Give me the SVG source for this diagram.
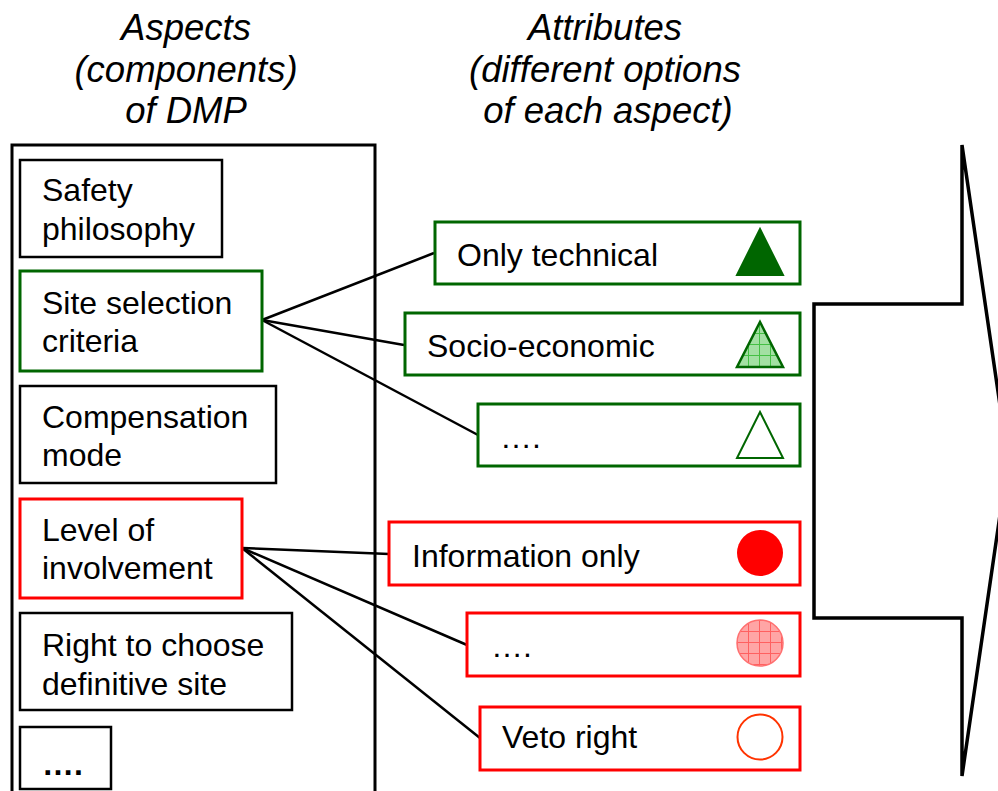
<svg xmlns="http://www.w3.org/2000/svg" width="998" height="791" viewBox="0 0 998 791">
<style>
text{font-family:"Liberation Sans",Arial,sans-serif;fill:#000}
.t{font-size:36.5px;font-style:italic;text-anchor:middle}
.b{font-size:32px}
.k{fill:#fff;stroke:#000;stroke-width:2.5}
.g{fill:#fff;stroke:#006600;stroke-width:3}
.r{fill:#fff;stroke:#ff0000;stroke-width:3}
.c{stroke:#000;stroke-width:2.5;fill:none}
</style>
<defs>
<pattern id="gp" x="737" y="322" width="11" height="11" patternUnits="userSpaceOnUse">
<rect width="11" height="11" fill="#a3e0a3"/>
<path d="M0 0.5H11M0.5 0V11" stroke="#44c044" stroke-width="1"/>
</pattern>
<pattern id="rp" x="737" y="620" width="11" height="11" patternUnits="userSpaceOnUse">
<rect width="11" height="11" fill="#ffa5a5"/>
<path d="M0 0.5H11M0.5 0V11" stroke="#ff6060" stroke-width="1"/>
</pattern>
</defs>
<rect width="998" height="791" fill="#fff"/>
<g id="title-aspects">
<text class="t" x="186" y="40">Aspects</text>
<text class="t" x="186" y="82">(components)</text>
<text class="t" x="186" y="123">of DMP</text>
</g>
<g id="title-attributes">
<text class="t" x="605" y="40">Attributes</text>
<text class="t" x="605" y="82">(different options</text>
<text class="t" x="608" y="123">of each aspect)</text>
</g>
<g id="container">
<path d="M12 795V145H375V795" fill="none" stroke="#000" stroke-width="3"/>
</g>
<g id="arrow">
<path d="M814 304H962V145L1008 460L962 776V618H814Z" fill="#fff" stroke="#000" stroke-width="3.5" stroke-linejoin="miter"/>
</g>
<g id="connectors">
<line class="c" x1="262" y1="320" x2="434" y2="253"/>
<line class="c" x1="262" y1="320" x2="404" y2="345"/>
<line class="c" x1="262" y1="320" x2="478" y2="435"/>
<line class="c" x1="242" y1="548" x2="389" y2="554"/>
<line class="c" x1="242" y1="548" x2="467" y2="645"/>
<line class="c" x1="242" y1="548" x2="480" y2="738"/>
</g>
<g id="safety">
<rect class="k" x="20" y="160" width="202" height="97"/>
<text class="b" x="42" y="201">Safety</text>
<text class="b" x="42" y="240">philosophy</text>
</g>
<g id="site">
<rect class="g" x="20" y="271" width="242" height="100"/>
<text class="b" x="42" y="314">Site selection</text>
<text class="b" x="42" y="352">criteria</text>
</g>
<g id="compensation">
<rect class="k" x="20" y="386" width="256" height="97"/>
<text class="b" x="42" y="428">Compensation</text>
<text class="b" x="42" y="466">mode</text>
</g>
<g id="involvement">
<rect class="r" x="20" y="499" width="222" height="99"/>
<text class="b" x="42" y="541">Level of</text>
<text class="b" x="42" y="579">involvement</text>
</g>
<g id="right">
<rect class="k" x="20" y="613" width="272" height="97"/>
<text class="b" x="42" y="656">Right to choose</text>
<text class="b" x="42" y="695">definitive site</text>
</g>
<g id="more-aspects">
<rect class="k" x="20" y="727" width="91" height="62"/>
<text class="b" x="42" y="775" font-weight="bold">….</text>
</g>
<g id="only-technical">
<rect class="g" x="435" y="222" width="365" height="62"/>
<text class="b" x="457" y="266">Only technical</text>
<polygon points="760,229 783,275 737,275" fill="#006600" stroke="#006600" stroke-width="2"/>
</g>
<g id="socio-economic">
<rect class="g" x="405" y="313" width="395" height="62"/>
<text class="b" x="427" y="357">Socio-economic</text>
<polygon points="760,322 783,367 737,367" fill="url(#gp)" stroke="#006600" stroke-width="2.5"/>
</g>
<g id="more-site">
<rect class="g" x="478" y="404" width="322" height="62"/>
<text class="b" x="500" y="448">….</text>
<polygon points="760,412 783,458 737,458" fill="#fff" stroke="#006600" stroke-width="2"/>
</g>
<g id="information-only">
<rect class="r" x="389" y="522" width="411" height="63"/>
<text class="b" x="412" y="567">Information only</text>
<circle cx="760" cy="553" r="23" fill="#ff0000"/>
</g>
<g id="more-involvement">
<rect class="r" x="467" y="613" width="333" height="63"/>
<text class="b" x="491" y="657">….</text>
<circle cx="760" cy="643" r="23" fill="url(#rp)" stroke="#ff7070" stroke-width="1.5"/>
</g>
<g id="veto">
<rect class="r" x="480" y="707" width="320" height="63"/>
<text class="b" x="502" y="748">Veto right</text>
<circle cx="760" cy="737" r="22.5" fill="#fff" stroke="#ff3300" stroke-width="2"/>
</g>
</svg>
